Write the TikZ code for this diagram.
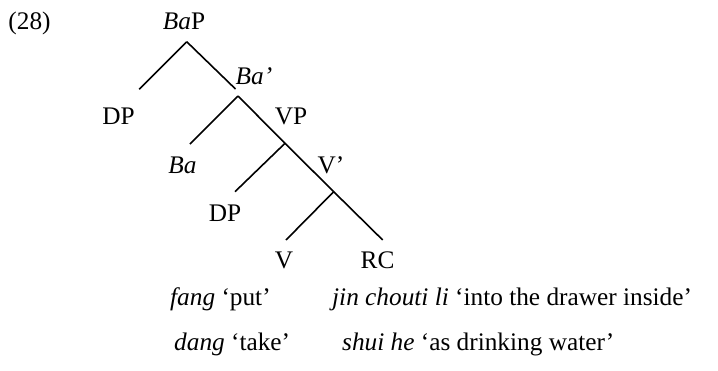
\documentclass[tikz,border=0pt]{standalone}
\usepackage{fontspec}
\setmainfont{Liberation Serif}
\begin{document}
\begin{tikzpicture}[x=1pt,y=-1pt,
  lbl/.style={inner sep=0pt, anchor=base, font=\fontsize{25.3}{30}\selectfont},
  gloss/.style={inner sep=0pt, anchor=base west, font=\fontsize{25.3}{30}\selectfont},
  branch/.style={line width=1.6pt, line cap=butt}]
\useasboundingbox (0,0) rectangle (718,370);

% branching points of the tree
\coordinate (top)  at (186.7,41.7);
\coordinate (bar)  at (238,96);
\coordinate (vp)   at (285,143.3);
\coordinate (vbar) at (333.7,191.7);
% free ends of the branches
\coordinate (topL) at (139.3,89.3);
\coordinate (topR) at (235.5,89);
\coordinate (barL) at (190,144);
\coordinate (vpL)  at (235,191.7);
\coordinate (vbL)  at (286,240);
\coordinate (vbR)  at (382.7,240);

% labels
\node[lbl] (ex)   at (29.5,29)  {(28)};
\node[lbl] (BaP)  at (184,29.5) {\textit{Ba}P};
\node[lbl] (Babar) at (254,84)  {\textit{Ba’}};
\node[lbl] (DPa)  at (118.5,124.5) {DP};
\node[lbl] (VP)   at (291,124.5) {VP};
\node[lbl] (Ba)   at (182.5,173) {\textit{Ba}};
\node[lbl] (Vbar) at (331,173)  {V’};
\node[lbl] (DPb)  at (225,221.7) {DP};
\node[lbl] (V)    at (284,268.5) {V};
\node[lbl] (RC)   at (377.5,268.5) {RC};

% glosses
\node[gloss] (fang)  at (170,305) {\textit{fang} ‘put’};
\node[gloss] (jin)   at (332,305) {\textit{jin chouti li} ‘into the drawer inside’};
\node[gloss] (dang)  at (174,350) {\textit{dang} ‘take’};
\node[gloss] (shui)  at (342,350) {\textit{shui he} ‘as drinking water’};

% branches
\draw[branch] (top) -- (topL);
\draw[branch] (top) -- (topR);
\draw[branch] (bar) -- (barL);
\draw[branch] (bar) -- (vp);
\draw[branch] (vp) -- (vpL);
\draw[branch] (vp) -- (vbar);
\draw[branch] (vbar) -- (vbL);
\draw[branch] (vbar) -- (vbR);
\end{tikzpicture}
\end{document}
